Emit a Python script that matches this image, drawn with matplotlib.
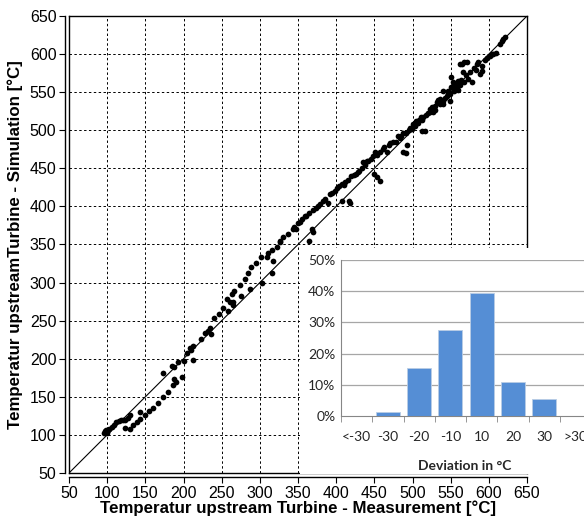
import matplotlib
matplotlib.use("Agg")
import matplotlib.pyplot as plt
from matplotlib.patches import Rectangle
import numpy as np

# Measured vs simulated temperature upstream of the turbine [°C]
measured = [
    96, 97, 98, 99, 100, 101, 103, 106, 109, 112, 115, 118, 121, 124, 127, 130,
    123, 130, 134, 139, 143, 150, 155, 160, 167, 173, 180, 186, 190, 143,
    173, 185, 188, 193, 200, 205, 210, 212, 188, 198, 212, 208,
    223, 228, 235, 236, 232, 240, 246, 252, 258, 257, 261, 265, 265, 263, 266,
    274, 275, 281, 285, 287, 288, 295, 301, 303, 311, 310, 316, 317, 322, 326,
    316, 326, 330, 337, 343, 347, 355, 359, 365, 370, 376, 383, 389, 392, 398,
    401, 407, 412, 415, 420, 426, 430, 434, 438, 442,
    368, 370, 364, 408, 417, 418, 449, 453, 457,
    435, 440, 451, 457, 461, 466, 474, 478, 481, 487, 492, 499, 501, 507, 511,
    516, 514, 523, 527, 536, 540, 549, 493, 488, 491, 512,
    512, 523, 527, 532, 536, 540, 540, 545, 549, 551, 551, 553, 555, 558, 562,
    565, 566, 571, 568, 573, 578, 586, 591, 591, 588, 601, 605, 610, 615, 617,
    621, 562, 568, 584, 604, 619,
    483, 485, 495, 497, 503, 505, 509, 518, 520, 525, 529, 530, 534, 538, 543,
    546, 547, 553, 556, 559, 560, 563, 570, 575, 580, 583, 595, 598,
    345, 350, 352, 361, 373, 379, 386, 394, 404, 410, 423, 428, 445, 448, 453,
    463, 469, 471,
]
simulated = [
    103, 105, 104, 106, 103, 107, 108, 110, 113, 117, 118, 119, 119, 120, 122, 126,
    109, 108, 113, 117, 121, 126, 131, 135, 142, 150, 157, 166, 170, 130,
    181, 191, 189, 196, 197, 207, 212, 217, 174, 176, 199, 214,
    226, 234, 241, 233, 236, 254, 259, 266, 263, 278, 275, 274, 271, 285, 289,
    297, 283, 305, 313, 291, 321, 326, 333, 300, 339, 333, 313, 328, 347, 353,
    343, 354, 360, 364, 370, 371, 383, 387, 392, 395, 400, 407, 405, 416, 420,
    424, 430, 432, 435, 440, 443, 447, 451, 455, 459,
    370, 366, 355, 407, 407, 404, 442, 438, 433,
    458, 460, 471, 472, 475, 471, 484, 485, 492, 497, 497, 501, 508, 510, 517,
    499, 518, 524, 525, 534, 538, 538, 480, 471, 470, 499,
    514, 528, 524, 537, 541, 534, 551, 545, 547, 557, 570, 563, 551, 557, 560,
    587, 576, 590, 564, 567, 564, 590, 584, 578, 574, 597, 600, 602, 613, 617,
    622, 587, 590, 587, 600, 620,
    490, 493, 500, 503, 505, 512, 513, 520, 522, 530, 532, 527, 540, 536, 542,
    548, 552, 555, 560, 553, 565, 566, 572, 577, 582, 579, 592, 595,
    373, 378, 380, 388, 398, 403, 410, 418, 427, 428, 441, 445, 462, 466, 468,
    478, 480, 483,
]

# Distribution of the deviation simulation - measurement
dev_bins = ["<-30", "-30", "-20", "-10", "10", "20", "30", ">30"]
dev_share = [0.0, 1.2, 15.3, 27.5, 39.3, 10.9, 5.6, 0.0]

ticks = list(range(50, 651, 50))

W, H = 584, 517
fig = plt.figure(figsize=(W / 100, H / 100), dpi=100)

px = lambda x: x / W
py = lambda y: 1 - y / H

# ---------------- main scatter ----------------
ax = fig.add_axes([px(69), py(473), px(527) - px(69), py(16) - py(473)])
ax.set_xlim(50, 650)
ax.set_ylim(50, 650)
ax.set_xticks(ticks)
ax.set_yticks(ticks)
for v in ticks[1:-1]:
    ax.axvline(v, color="black", lw=0.7, ls=(0, (2.5, 2.5)), zorder=1)
    ax.axhline(v, color="black", lw=0.7, ls=(0, (2.5, 2.5)), zorder=1)
ax.plot([50, 650], [50, 650], color="black", lw=0.8, zorder=2)
ax.scatter(measured, simulated, s=17, color="black", linewidths=0, zorder=3)

for side in ("top", "right"):
    ax.spines[side].set_linewidth(1.0)
for side in ("left", "bottom"):
    ax.spines[side].set_position(("outward", 3))
    ax.spines[side].set_linewidth(1.0)
# inner frame line giving the double axis look
ax.plot([0, 0], [0, 1], transform=ax.transAxes, color="black", lw=1.0,
        clip_on=False, zorder=4)
ax.plot([0, 1], [0, 0], transform=ax.transAxes, color="black", lw=1.0,
        clip_on=False, zorder=4)

ax.tick_params(direction="out", length=4, width=0.8, labelsize=11.5, pad=2)
for lab in ax.get_xticklabels() + ax.get_yticklabels():
    lab.set_fontfamily("Liberation Sans")
ax.set_xlabel("Temperatur upstream Turbine - Measurement [°C]",
              fontfamily="Liberation Sans", fontweight="bold", fontsize=12.2,
              labelpad=0)
ax.set_ylabel("Temperatur upstreamTurbine - Simulation [°C]",
              fontfamily="Liberation Sans", fontweight="bold", fontsize=12.2,
              labelpad=5)

# white chart area of the inset
fig.patches.append(Rectangle((px(300), py(474)), px(600) - px(300),
                             py(248) - py(474), transform=fig.transFigure,
                             facecolor="white", edgecolor="none", zorder=1))

# ---------------- inset histogram ----------------
ins = fig.add_axes([px(341), py(416), px(591) - px(341), py(260) - py(416)])
ins.set_zorder(2)
ins.set_facecolor("white")
xpos = np.arange(len(dev_bins))
ins.bar(xpos, dev_share, width=0.77, color="#558ED5", edgecolor="#B9CDE5",
        linewidth=0.6, zorder=3)
ins.set_xlim(-0.5, len(dev_bins) - 0.5)
ins.set_ylim(0, 50)
ins.set_yticks(range(0, 51, 10))
ins.set_yticklabels([f"{v}%" for v in range(0, 51, 10)])
ins.set_xticks(xpos)
ins.set_xticklabels(dev_bins)
ins.set_xticks(np.arange(-0.5, len(dev_bins), 1.0), minor=True)
for v in range(10, 51, 10):
    ins.axhline(v, color="#A6A6A6", lw=0.9, zorder=1)
for side in ("top", "right"):
    ins.spines[side].set_visible(False)
ins.spines["left"].set_color("#868686")
ins.spines["bottom"].set_color("#868686")
ins.tick_params(axis="x", which="major", length=0, labelsize=10, pad=11,
                colors="#262626")
ins.tick_params(axis="x", which="minor", length=4, color="#868686")
ins.tick_params(axis="y", length=0, labelsize=10, pad=4, colors="#262626")
for lab in ins.get_xticklabels() + ins.get_yticklabels():
    lab.set_fontfamily("Lato")
ins.set_xlabel("Deviation in °C", fontfamily="Lato", fontweight="bold",
               fontsize=10, color="#262626")
ins.xaxis.set_label_coords((465 - 341) / (591 - 341), -(460 - 416) / 156)

fig.savefig("out.png", dpi=100)
